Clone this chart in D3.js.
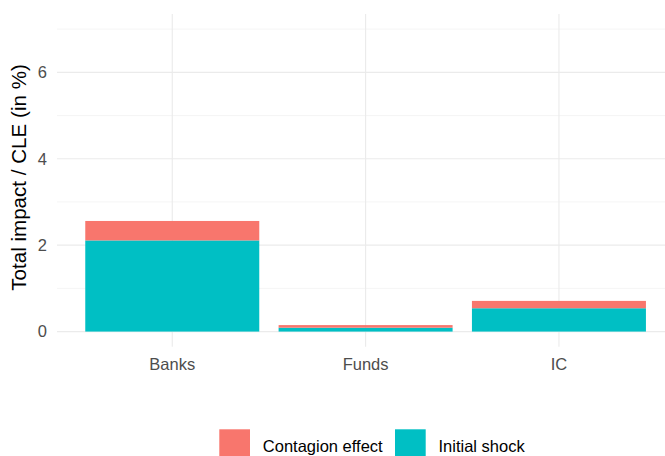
<!DOCTYPE html>
<html><head><meta charset="utf-8">
<script src="https://cdn.jsdelivr.net/npm/d3@7"></script>
<style>body{margin:0;background:#fff;}svg{display:block;font-family:"Liberation Sans",Arial,sans-serif;}</style>
</head><body>
<svg id="c" width="665" height="456"></svg>
<script>
const categories = ["Banks", "Funds", "IC"];
const initialShock = [2.11, 0.09, 0.54];
const contagionEffect = [0.45, 0.06, 0.17];
const seriesNames = ["Contagion effect", "Initial shock"];
const seriesColors = ["#F8766D", "#00BFC4"];
const yTicks = [0, 2, 4, 6];
const yMinor = [1, 3, 5, 7];

const svg = d3.select("#c");
const panel = {left: 57, right: 665, top: 14, bottom: 346.7};

const x = d3.scaleBand().domain(categories).range([75.6, 655.6]).paddingInner(0.1).paddingOuter(0.05);
const y = d3.scaleLinear().domain([-0.35, 7.35]).range([panel.bottom, panel.top]);

// gridlines
const g = svg.append("g");
g.selectAll(".minor").data(yMinor).enter().append("line")
  .attr("x1", panel.left).attr("x2", panel.right)
  .attr("y1", d => y(d)).attr("y2", d => y(d))
  .attr("stroke", "#f3f3f3").attr("stroke-width", 0.8);
g.selectAll(".major").data(yTicks).enter().append("line")
  .attr("x1", panel.left).attr("x2", panel.right)
  .attr("y1", d => y(d)).attr("y2", d => y(d))
  .attr("stroke", "#ebebeb").attr("stroke-width", 1.1);
g.selectAll(".vx").data(categories).enter().append("line")
  .attr("x1", d => x(d) + x.bandwidth()/2).attr("x2", d => x(d) + x.bandwidth()/2)
  .attr("y1", panel.top).attr("y2", panel.bottom)
  .attr("stroke", "#ebebeb").attr("stroke-width", 1.1);

// stacked bars
const rows = categories.map((c, i) => ({cat: c, "Initial shock": initialShock[i], "Contagion effect": contagionEffect[i]}));
const stack = d3.stack().keys(["Initial shock", "Contagion effect"])(rows);
const color = d3.scaleOrdinal().domain(seriesNames).range(seriesColors);
svg.append("g").selectAll("g").data(stack).enter().append("g")
  .attr("fill", d => color(d.key))
  .selectAll("rect").data(d => d).enter().append("rect")
  .attr("x", d => x(d.data.cat))
  .attr("width", x.bandwidth())
  .attr("y", d => y(d[1]))
  .attr("height", d => y(d[0]) - y(d[1]));

// axes
const yAxis = svg.append("g").attr("transform", `translate(${panel.left},0)`)
  .call(d3.axisLeft(y).tickValues(yTicks).tickSize(0).tickPadding(10));
yAxis.select(".domain").remove();
yAxis.selectAll("text").attr("fill", "#4d4d4d").style("font-size", "16.5px");

const xAxis = svg.append("g").attr("transform", `translate(0,${panel.bottom})`)
  .call(d3.axisBottom(x).tickSize(0).tickPadding(11.6));
xAxis.select(".domain").remove();
xAxis.selectAll("text").attr("fill", "#4d4d4d").style("font-size", "16.5px");

svg.append("text")
  .attr("transform", `translate(26,177.5) rotate(-90)`)
  .attr("text-anchor", "middle").attr("fill", "#000").style("font-size", "20.6px")
  .text("Total impact / CLE (in %)");

// legend
const legend = svg.append("g");
const legX = [219.3, 395];
seriesNames.forEach((s, i) => {
  legend.append("rect").attr("x", legX[i]).attr("y", 429.3).attr("width", 30.7).attr("height", 30)
    .attr("fill", color(s));
  legend.append("text").attr("x", legX[i] + 43.5).attr("y", 451.5)
    .attr("fill", "#000").style("font-size", "16.5px").text(s);
});
</script>
</body></html>
